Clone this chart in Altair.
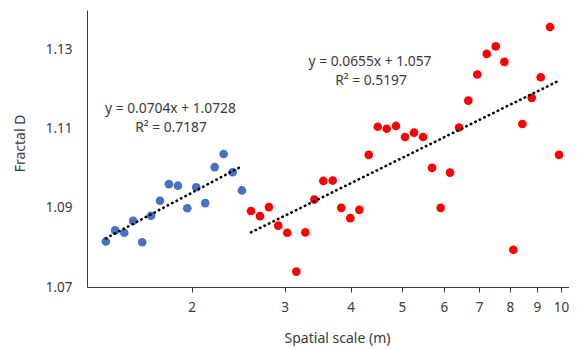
import altair as alt
import pandas as pd

# ---- data ----
scale_blue = [1.376, 1.433, 1.491, 1.550, 1.612, 1.675, 1.742, 1.811, 1.884, 1.962,
              2.040, 2.122, 2.211, 2.299, 2.391, 2.490]
fd_blue = [1.0815, 1.0843, 1.0837, 1.0867, 1.0813, 1.0880, 1.0918, 1.0960, 1.0956, 1.0899,
           1.0952, 1.0912, 1.1003, 1.1036, 1.0990, 1.0944]
scale_red = [2.590, 2.694, 2.801, 2.917, 3.034, 3.156, 3.282, 3.413, 3.550, 3.698,
             3.839, 3.993, 4.153, 4.327, 4.500, 4.680, 4.873, 5.068, 5.271, 5.482,
             5.701, 5.921, 6.166, 6.413, 6.678, 6.945, 7.236, 7.525, 7.813, 8.125,
             8.451, 8.804, 9.156, 9.534, 9.915]
fd_red = [1.0892, 1.0879, 1.0902, 1.0855, 1.0837, 1.0739, 1.0838, 1.0921, 1.0968, 1.0969,
          1.0900, 1.0874, 1.0895, 1.1034, 1.1105, 1.1100, 1.1107, 1.1079, 1.1090, 1.1079,
          1.1001, 1.0900, 1.0989, 1.1103, 1.1171, 1.1237, 1.1289, 1.1308, 1.1269, 1.0794,
          1.1112, 1.1178, 1.1230, 1.1357, 1.1034]
x_ticks = [2, 3, 4, 5, 6, 7, 8, 9, 10]
y_ticks = [1.07, 1.09, 1.11, 1.13]
eq_blue = ["y = 0.0704x + 1.0728", "R² = 0.7187"]
eq_red = ["y = 0.0655x + 1.057", "R² = 0.5197"]
x_title = "Spatial scale (m)"
y_title = "Fractal D"

df = pd.DataFrame({
    "scale": scale_blue + scale_red,
    "fd": fd_blue + fd_red,
    "group": ["blue"] * len(scale_blue) + ["red"] * len(scale_red),
})

FONT = "Noto Sans"
TXT = "#3a3a3a"
W, H = 482, 277

xs = alt.Scale(type="log", domain=[1.2674, 10.356], nice=False)
ys = alt.Scale(domain=[1.07, 1.14], nice=False, zero=False)

x_axis = alt.Axis(values=x_ticks, format="d", title=x_title, grid=False,
                  tickSize=5, tickColor=TXT, domainColor=TXT, labelColor=TXT,
                  labelFont=FONT, labelFontSize=13.5, labelPadding=8,
                  titleFont=FONT, titleFontSize=14, titleFontWeight="normal",
                  titleColor=TXT, titleX=250, titleY=51, titleAlign="center",
                  titleBaseline="middle")
y_axis = alt.Axis(values=y_ticks, format=".2f", title=y_title, grid=False,
                  ticks=False, tickSize=0, domainColor=TXT, labelColor=TXT,
                  labelFont=FONT, labelFontSize=13.5, labelPadding=15,
                  titleFont=FONT, titleFontSize=14, titleFontWeight="normal",
                  titleColor=TXT, titleX=-67, titleY=133, titleAngle=270,
                  titleAlign="center", titleBaseline="middle")

color = alt.Color("group:N", scale=alt.Scale(domain=["blue", "red"],
                                             range=["#4472C4", "#FF0000"]), legend=None)

points = alt.Chart(df).mark_circle(size=75, opacity=1).encode(
    x=alt.X("scale:Q", scale=xs, axis=x_axis),
    y=alt.Y("fd:Q", scale=ys, axis=y_axis),
    color=color,
)

trend = alt.Chart(df).transform_regression(
    "scale", "fd", groupby=["group"], method="log"
).mark_line(color="black", strokeDash=[0.5, 4.5], strokeWidth=2.6, strokeCap="round").encode(
    x=alt.X("scale:Q", scale=xs),
    y=alt.Y("fd:Q", scale=ys),
    detail="group:N",
)


def label(txt, px, py):
    return alt.Chart(pd.DataFrame({"t": [txt]})).mark_text(
        font=FONT, fontSize=13.8, color=TXT, align="center", baseline="middle"
    ).encode(text="t:N", x=alt.value(px), y=alt.value(py))


texts = [
    label(eq_blue[0], 83.5, 99),
    label(eq_blue[1], 84, 118),
    label(eq_red[0], 283, 51.5),
    label(eq_red[1], 284, 70.5),
]

chart = alt.layer(points, trend, *texts).properties(
    width=W, height=H,
    autosize=alt.AutoSizeParams(type="none"),
    padding={"left": 79, "top": 2, "right": 0, "bottom": 59},
).configure_view(stroke=None)

chart.save("out.html", embed_options={"renderer": "svg", "actions": False})
